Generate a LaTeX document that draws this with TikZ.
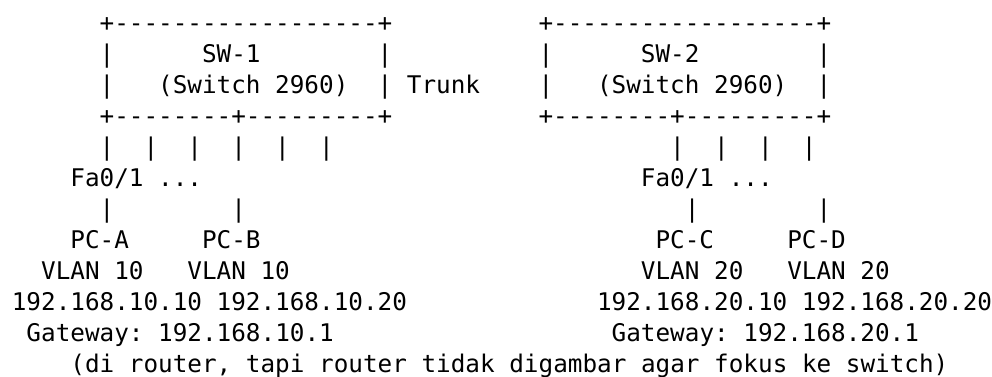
\documentclass[tikz,border=0pt]{standalone}
\usepackage{fontspec}
\newfontfamily\asciimono[Ligatures=TeXOff]{DejaVu Sans Mono}
\begin{document}
\begin{tikzpicture}[x=1pt,y=1pt,
  txt/.style={anchor=base west, inner sep=0pt, outer sep=0pt,
    font=\asciimono\fontsize{18.23pt}{22pt}\selectfont\frenchspacing, text=black}]
\def\cw{10.9725}
\useasboundingbox (0,0) rectangle (744,-282.75);
\newcommand\AsciiAt[4]{\node[txt] (#1) at ({8.9+#2*\cw},{-(23.4+23.25*#3)}) {#4};}
% row 0
\AsciiAt{boxatop}{6}{0}{+------------------+}
\AsciiAt{boxbtop}{36}{0}{+------------------+}
% row 1
\AsciiAt{boxal1}{6}{1}{|}
\AsciiAt{swa}{13}{1}{SW-1}
\AsciiAt{boxar1}{25}{1}{|}
\AsciiAt{boxbl1}{36}{1}{|}
\AsciiAt{swb}{43}{1}{SW-2}
\AsciiAt{boxbr1}{55}{1}{|}
% row 2
\AsciiAt{boxal2}{6}{2}{|}
\AsciiAt{modela}{10}{2}{(Switch 2960)}
\AsciiAt{boxar2}{25}{2}{|}
\AsciiAt{trunk}{27}{2}{Trunk}
\AsciiAt{boxbl2}{36}{2}{|}
\AsciiAt{modelb}{40}{2}{(Switch 2960)}
\AsciiAt{boxbr2}{55}{2}{|}
% row 3
\AsciiAt{boxabot}{6}{3}{+--------+---------+}
\AsciiAt{boxbbot}{36}{3}{+--------+---------+}
% row 4
\AsciiAt{porta1}{6}{4}{|}
\AsciiAt{porta2}{9}{4}{|}
\AsciiAt{porta3}{12}{4}{|}
\AsciiAt{porta4}{15}{4}{|}
\AsciiAt{porta5}{18}{4}{|}
\AsciiAt{porta6}{21}{4}{|}
\AsciiAt{portb1}{45}{4}{|}
\AsciiAt{portb2}{48}{4}{|}
\AsciiAt{portb3}{51}{4}{|}
\AsciiAt{portb4}{54}{4}{|}
% row 5
\AsciiAt{faa}{4}{5}{Fa0/1 ...}
\AsciiAt{fab}{43}{5}{Fa0/1 ...}
% row 6
\AsciiAt{linka}{6}{6}{|}
\AsciiAt{linkb}{15}{6}{|}
\AsciiAt{linkc}{46}{6}{|}
\AsciiAt{linkd}{55}{6}{|}
% row 7
\AsciiAt{pca}{4}{7}{PC-A}
\AsciiAt{pcb}{13}{7}{PC-B}
\AsciiAt{pcc}{44}{7}{PC-C}
\AsciiAt{pcd}{53}{7}{PC-D}
% row 8
\AsciiAt{vlana}{2}{8}{VLAN 10}
\AsciiAt{vlanb}{12}{8}{VLAN 10}
\AsciiAt{vlanc}{43}{8}{VLAN 20}
\AsciiAt{vland}{53}{8}{VLAN 20}
% row 9
\AsciiAt{ipa}{0}{9}{192.168.10.10}
\AsciiAt{ipb}{14}{9}{192.168.10.20}
\AsciiAt{ipc}{40}{9}{192.168.20.10}
\AsciiAt{ipd}{54}{9}{192.168.20.20}
% row 10
\AsciiAt{gwa}{1}{10}{Gateway: 192.168.10.1}
\AsciiAt{gwb}{41}{10}{Gateway: 192.168.20.1}
% row 11
\AsciiAt{note}{4}{11}{(di router, tapi router tidak digambar agar fokus ke switch)}
\end{tikzpicture}
\end{document}
